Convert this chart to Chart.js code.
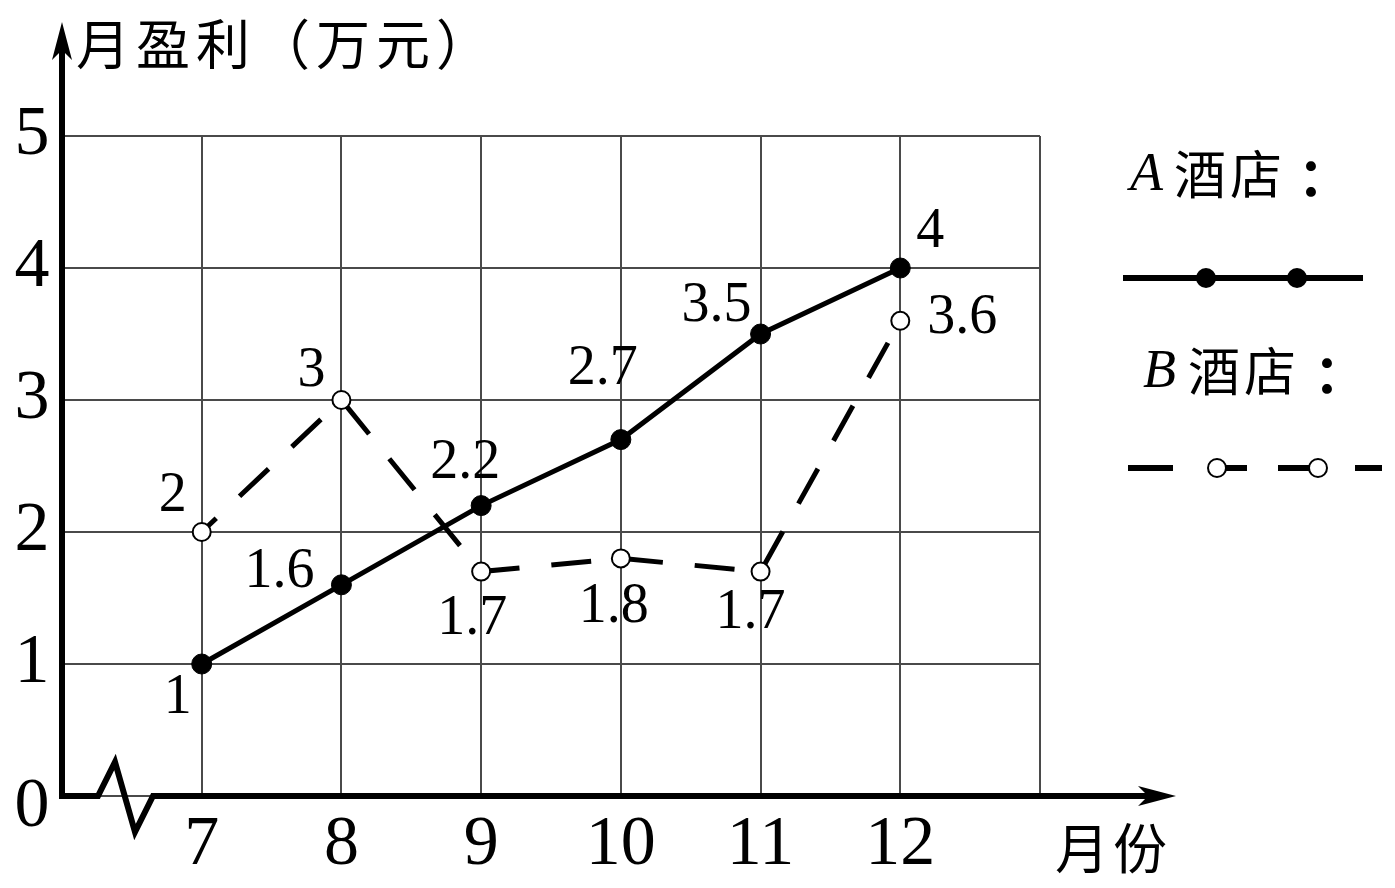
<!DOCTYPE html>
<html>
<head>
<meta charset="utf-8">
<script src="https://cdn.jsdelivr.net/npm/chart.js@4"></script>
<style>
  html, body { margin: 0; padding: 0; background: #fff; }
  #wrap { width: 1395px; height: 888px; }
</style>
</head>
<body>
<div id="wrap"><canvas id="chart" width="1395" height="888"></canvas></div>
<script>
// values
const months = [7, 8, 9, 10, 11, 12];
const hotelA = [1, 1.6, 2.2, 2.7, 3.5, 4];
const hotelB = [2, 3, 1.7, 1.8, 1.7, 3.6];
const yTicks = [0, 1, 2, 3, 4, 5];
const xTicks = [7, 8, 9, 10, 11, 12];

// where each value label sits relative to its point
const offsetsA = [[-24, 34], [-62, -13], [-16, -42], [-18, -70], [-44, -28], [30, -36]];
const offsetsB = [[-29, -36], [-30, -29], [-9, 48], [-7, 49], [-10, 42], [62, -3]];

const SERIF = "'Liberation Serif', 'DejaVu Serif', serif";
const CJK = "'Noto Sans CJK SC', 'Noto Sans', sans-serif";

function arrowHead(ctx, tipX, tipY, dir) {
  // dir: "up" or "right"
  ctx.beginPath();
  if (dir === "up") {
    ctx.moveTo(tipX, tipY);
    ctx.lineTo(tipX + 10, tipY + 38);
    ctx.lineTo(tipX, tipY + 28);
    ctx.lineTo(tipX - 10, tipY + 38);
  } else {
    ctx.moveTo(tipX, tipY);
    ctx.lineTo(tipX - 38, tipY + 10);
    ctx.lineTo(tipX - 28, tipY);
    ctx.lineTo(tipX - 38, tipY - 10);
  }
  ctx.closePath();
  ctx.fill();
}

// draw CJK text one glyph per full-width cell, so the browser does not trim punctuation
function cjkText(ctx, text, left, y, step) {
  ctx.textAlign = "left";
  Array.from(text).forEach((ch, i) => ctx.fillText(ch, left + i * step, y));
}

const axesPlugin = {
  id: "axesPlugin",
  beforeDatasetsDraw(chart) {
    const ctx = chart.ctx;
    const x = chart.scales.x, y = chart.scales.y;
    const ox = x.getPixelForValue(6), oy = y.getPixelForValue(0);
    ctx.save();
    ctx.strokeStyle = "#000";
    ctx.fillStyle = "#000";
    ctx.lineWidth = 6;
    ctx.lineJoin = "miter";
    // y axis
    ctx.beginPath();
    ctx.moveTo(ox, oy + 3);
    ctx.lineTo(ox, 50);
    ctx.stroke();
    arrowHead(ctx, ox, 22, "up");
    // x axis with break mark
    ctx.beginPath();
    ctx.moveTo(ox - 3, oy);
    ctx.lineTo(ox + 36, oy);
    ctx.lineTo(ox + 53, oy - 34);
    ctx.lineTo(ox + 73, oy + 36);
    ctx.lineTo(ox + 91, oy);
    ctx.lineTo(1150, oy);
    ctx.stroke();
    arrowHead(ctx, 1176, oy, "right");
    ctx.restore();
  },
  afterDatasetsDraw(chart) {
    const ctx = chart.ctx;
    const x = chart.scales.x, y = chart.scales.y;
    ctx.save();
    ctx.fillStyle = "#000";
    ctx.textAlign = "center";
    ctx.textBaseline = "middle";

    // tick labels
    ctx.font = "70px " + SERIF;
    yTicks.forEach(v => {
      ctx.fillText(String(v), 32, y.getPixelForValue(v) + (v === 0 ? 12 : 0));
    });
    xTicks.forEach(v => {
      ctx.fillText(String(v), x.getPixelForValue(v), 846);
    });

    // value labels
    ctx.font = "56px " + SERIF;
    [[0, hotelA, offsetsA], [1, hotelB, offsetsB]].forEach(([di, vals, offs]) => {
      const meta = chart.getDatasetMeta(di);
      meta.data.forEach((pt, i) => {
        ctx.fillText(String(vals[i]), pt.x + offs[i][0], pt.y + offs[i][1]);
      });
    });

    // axis titles
    ctx.font = "54px " + CJK;
    cjkText(ctx, "月盈利（万元）", 76, 44, 60);
    cjkText(ctx, "月份", 1055, 848, 58);

    // legend
    ctx.textAlign = "left";
    ctx.font = "italic 54px " + SERIF;
    ctx.fillText("A", 1130, 176);
    ctx.fillText("B", 1143, 373);
    ctx.font = "52px " + CJK;
    cjkText(ctx, "酒店", 1174, 174, 56);
    cjkText(ctx, "酒店", 1188, 371, 56);
    ctx.font = "bold 52px " + CJK;
    ctx.fillText("：", 1298, 176);
    ctx.fillText("：", 1314, 373);

    ctx.strokeStyle = "#000";
    ctx.lineWidth = 6;
    ctx.beginPath();
    ctx.moveTo(1123, 278);
    ctx.lineTo(1363, 278);
    ctx.stroke();
    [1206, 1297].forEach(cx => {
      ctx.beginPath();
      ctx.arc(cx, 278, 10, 0, Math.PI * 2);
      ctx.fill();
    });

    [[1128, 1173], [1217, 1247], [1278, 1318], [1355, 1382]].forEach(([a, b]) => {
      ctx.beginPath();
      ctx.moveTo(a, 468);
      ctx.lineTo(b, 468);
      ctx.stroke();
    });
    ctx.lineWidth = 2;
    ctx.fillStyle = "#fff";
    [1217, 1318].forEach(cx => {
      ctx.beginPath();
      ctx.arc(cx, 468, 9, 0, Math.PI * 2);
      ctx.fill();
      ctx.stroke();
    });
    ctx.restore();
  }
};

new Chart(document.getElementById("chart"), {
  type: "line",
  data: {
    datasets: [
      {
        label: "A酒店",
        data: months.map((m, i) => ({ x: m, y: hotelA[i] })),
        borderColor: "#000",
        borderWidth: 5,
        pointRadius: 10,
        pointBackgroundColor: "#000",
        pointBorderColor: "#000",
        pointBorderWidth: 1,
        tension: 0,
      },
      {
        label: "B酒店",
        data: months.map((m, i) => ({ x: m, y: hotelB[i] })),
        borderColor: "#000",
        borderWidth: 5,
        borderDash: [40, 32],
        borderDashOffset: 20,
        pointRadius: 9,
        pointBackgroundColor: "#fff",
        pointBorderColor: "#000",
        pointBorderWidth: 2,
        tension: 0,
      },
    ],
  },
  options: {
    responsive: false,
    animation: false,
    devicePixelRatio: 1,
    layout: { padding: { left: 62, right: 355, top: 136, bottom: 92 } },
    plugins: {
      legend: { display: false },
      tooltip: { enabled: false },
    },
    scales: {
      x: {
        type: "linear",
        min: 6,
        max: 13,
        ticks: { display: false, stepSize: 1 },
        grid: { color: "#4a4a4a", lineWidth: 2, drawTicks: false },
        border: { display: false },
      },
      y: {
        min: 0,
        max: 5,
        ticks: { display: false, stepSize: 1 },
        grid: { color: "#4a4a4a", lineWidth: 2, drawTicks: false },
        border: { display: false },
      },
    },
  },
  plugins: [axesPlugin],
});
</script>
</body>
</html>
